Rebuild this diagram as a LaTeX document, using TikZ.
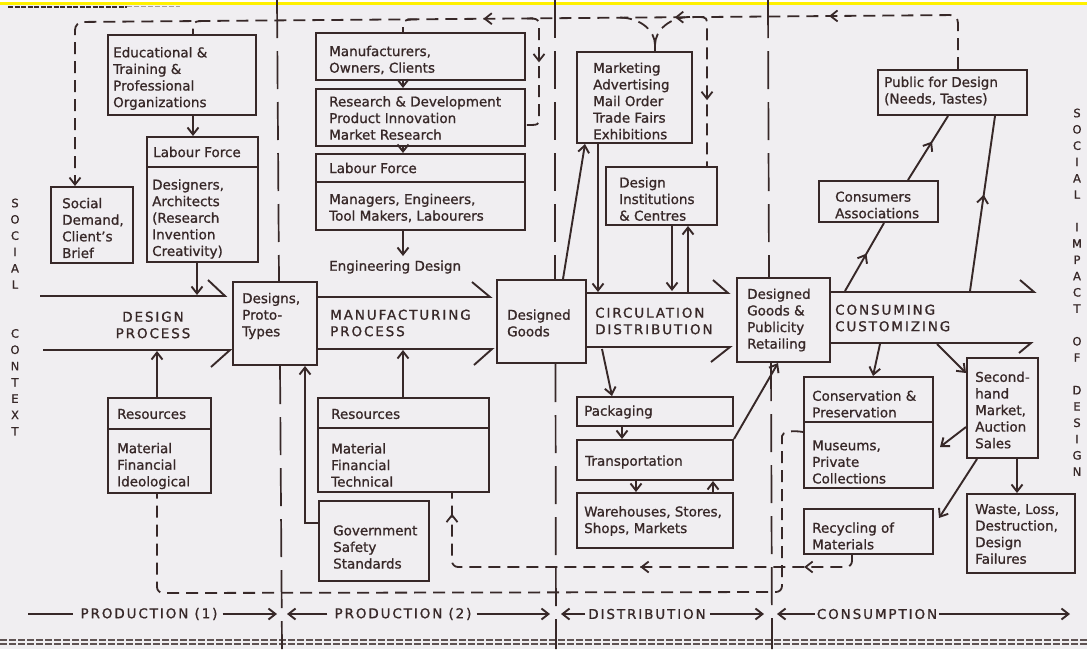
\documentclass[tikz,border=0pt]{standalone}
\usepackage{fontspec}
\setmainfont{DejaVu Sans}[FakeBold=1]
\newfontfamily\capsf{DejaVu Sans}[LetterSpace=14,FakeBold=1]
\newfontfamily\sidef{DejaVu Sans}[FakeBold=1]
\usetikzlibrary{arrows.meta,decorations.markings,calc}
\definecolor{ink}{RGB}{55,40,40}
\definecolor{paper}{RGB}{240,238,241}
\definecolor{band}{RGB}{255,240,0}
\tikzset{
  box/.style={draw=ink, line width=2pt, inner sep=0pt},
  txt/.style={text=ink, anchor=west, align=left, inner sep=0pt, font=\fontsize{13.5}{16.6}\selectfont},
  caplab/.style={text=ink, inner sep=0pt, align=left, font=\capsf\fontsize{13.5}{16.5}\selectfont},
  side/.style={text=ink, inner sep=0pt, align=center, font=\sidef\fontsize{11.5}{16.3}\selectfont},
  ln/.style={draw=ink, line width=1.9pt},
  arr/.style={draw=ink, line width=1.9pt, -{Straight Barb[length=7pt,width=11pt]}},
  dsh/.style={draw=ink, line width=1.8pt, dash pattern=on 12pt off 7pt},
  divl/.style={draw=ink, line width=1.7pt, dash pattern=on 38pt off 13pt},
  midtip/.style={postaction={decorate}, decoration={markings, mark=at position #1 with {\pgfsetdash{}{0pt}\arrow{Straight Barb[length=7pt,width=11pt]}}}},
}
\newcommand\mybox[8]{%
  \node[box, minimum width={(#4-#2)*1pt}, minimum height={(#5-#3)*1pt}] (#1) at ({(#2+#4)/2},{(#3+#5)/2}) {};
  \node[txt] (#1t) at (#6,#7) {#8};}
\begin{document}
\begin{tikzpicture}[x=1pt,y=-1pt]
\useasboundingbox (0,0) rectangle (1087,649);
\fill[white] (0,0) rectangle (1087,649);
\fill[paper] (0,5) rectangle (1087,649);
\fill[band] (0,2.3) rectangle (1087,4.6);
\draw[ink, line width=2.2pt, dash pattern=on 5pt off 1.5pt] (8,6.6) -- (127,6.6);
\draw[ink!45, line width=1.6pt, dash pattern=on 5pt off 2pt] (127,6.4) -- (180,6.4);
\draw[ink!80, line width=1.3pt, dash pattern=on 7pt off 2pt] (0,640) -- (1087,640);
\draw[ink!80, line width=1.3pt, dash pattern=on 7pt off 2pt] (0,644) -- (1087,644);

% ---------- boxes ----------
\mybox{edu}{108}{35}{256}{115}{113}{78.5}{Educational \&\\Training \&\\Professional\\Organizations}
\mybox{labdh}{147}{137}{258}{167}{153}{152}{Labour Force}
\mybox{labdb}{147}{167}{258}{262}{152}{219}{Designers,\\Architects\\(Research\\Invention\\Creativity)}
\mybox{soc}{51}{187}{133}{263}{62}{228}{Social\\Demand,\\Client’s\\Brief}
\mybox{des}{233}{282}{317}{365}{242}{316}{Designs,\\Proto-\\Types}
\mybox{man}{316}{33}{525}{80}{329}{60}{Manufacturers,\\Owners, Clients}
\mybox{rd}{316}{89}{525}{146}{329}{118}{Research \& Development\\Product Innovation\\Market Research}
\mybox{labmh}{316}{154}{525}{182}{329}{168}{Labour Force}
\mybox{labmb}{316}{182}{525}{230}{329}{208}{Managers, Engineers,\\Tool Makers, Labourers}
\node[txt] (eng) at (329,267) {Engineering Design};
\mybox{dg}{497}{280}{586}{363}{507}{323}{Designed\\Goods}
\mybox{mkt}{577}{52}{692}{143}{593}{101}{Marketing\\Advertising\\Mail Order\\Trade Fairs\\Exhibitions}
\mybox{dic}{606}{167}{717}{225}{619}{199}{Design\\Institutions\\\& Centres}
\mybox{dgp}{737}{278}{830}{362}{747}{320}{Designed\\Goods \&\\Publicity\\Retailing}
\mybox{pub}{878}{70}{1027}{115}{884}{91}{Public for Design\\(Needs, Tastes)}
\mybox{ca}{819}{181}{938}{222}{835}{205}{Consumers\\Associations}
\mybox{resdh}{108}{398}{211}{429}{117}{414}{Resources}
\mybox{resdb}{108}{429}{211}{493}{117}{466}{Material\\Financial\\Ideological}
\mybox{resmh}{318}{398}{489}{428}{331}{414}{Resources}
\mybox{resmb}{318}{428}{489}{492}{331}{465}{Material\\Financial\\Technical}
\mybox{gov}{319}{501}{429}{581}{333}{547}{Government\\Safety\\Standards}
\mybox{pack}{577}{397}{733}{426}{584}{412}{Packaging}
\mybox{trans}{577}{440}{733}{480}{585}{462}{Transportation}
\mybox{ware}{577}{493}{733}{548}{584}{521}{Warehouses, Stores,\\Shops, Markets}
\mybox{consh}{804}{377}{933}{422}{812}{404}{Conservation \&\\Preservation}
\mybox{consb}{804}{422}{933}{488}{812}{462}{Museums,\\Private\\Collections}
\mybox{rec}{804}{509}{933}{554}{812}{536}{Recycling of\\Materials}
\mybox{sh}{967}{358}{1038}{458}{975}{410}{Second-\\hand\\Market,\\Auction\\Sales}
\mybox{waste}{967}{494}{1075}{573}{975}{534}{Waste, Loss,\\Destruction,\\Design\\Failures}

% ---------- dividing lines ----------
\draw[divl] (277,0) -- (des.north -| 279,0);
\draw[divl] (des.south -| 280,0) -- (282,649);
\draw[divl] (555,0) -- (dg.north -| 555,0);
\draw[divl] (dg.south -| 555.5,0) -- (556,649);
\draw[divl] (768,0) -- (dgp.north -| 769,0);
\draw[divl] (dgp.south -| 771,0) -- (772,649);

% ---------- process labels ----------
\node[caplab, align=center] (dpl) at (153,325) {DESIGN\\PROCESS};
\node[caplab, anchor=west] (mpl) at (330,323) {MANUFACTURING\\PROCESS};
\node[caplab, anchor=west] (cpl) at (595,321) {CIRCULATION\\DISTRIBUTION};
\node[caplab, anchor=west] (cspl) at (835,318) {CONSUMING\\CUSTOMIZING};

% ---------- process arrows ----------
\coordinate (dpt0) at (40,296); \coordinate (dpb0) at (43,350);
\draw[ln] (dpt0) -- (225,296) -- (208,280);
\draw[ln] (dpb0) -- (230,350) -- (211,367);
\draw[ln] (des.east |- 0,297) -- (490,297) -- (472,282);
\draw[ln] (des.east |- 0,349) -- (492,349) -- (474,365);
\draw[ln] (dg.east |- 0,293) -- (728,293) -- (713,280);
\draw[ln] (dg.east |- 0,347) -- (730,347) -- (711,362);
\draw[ln] (dgp.east |- 0,292) -- (1034,292) -- (1020,280);
\draw[ln] (dgp.east |- 0,343) -- (1031,343) -- (1019,353);

% ---------- design side ----------
\draw[arr] ([xshift=11pt]edu.south) -- ([xshift=-9.5pt]labdh.north);
\draw[arr] ([xshift=-5.5pt]labdb.south) -- (197,295);
\draw[arr] ([xshift=-2.5pt]resdh.north) -- (157,351);
\draw[arr] ([yshift=18pt]gov.west) -| ([xshift=30pt]des.south);

% ---------- manufacturing side ----------
\draw[arr] ([xshift=-17.5pt]man.south) -- ([xshift=-17.5pt]rd.north);
\draw[arr] ([xshift=-17.5pt]rd.south) -- ([xshift=-17.5pt]labmh.north);
\coordinate (engtop) at (403,256);
\draw[arr] ([xshift=-17.5pt]labmb.south) -- (engtop);
\draw[arr] ([xshift=-0.5pt]resmh.north) -- ([xshift=-0.5pt]resmh.north |- 0,350);

% ---------- distribution ----------
\draw[arr] ([xshift=21.5pt]dg.north) -- ([xshift=-49.5pt]mkt.south);
\draw[arr] ([xshift=-36.5pt]mkt.south) -- (598,292);
\draw[arr] ([xshift=10.5pt]dic.south) -- (672,291);
\draw[arr] (688,292) -- ([xshift=26.5pt]dic.south);
\draw[arr] (602,349) -- ([xshift=-43pt]pack.north);
\draw[arr] ([xshift=-33pt]pack.south) -- ([xshift=-33pt]trans.north);
\draw[arr] ([xshift=-19pt]trans.south) -- ([xshift=-19pt]ware.north);
\draw[arr] ([xshift=58pt]ware.north) -- ([xshift=58pt]trans.south);
\draw[arr] (trans.north east) -- ([xshift=-5.5pt]dgp.south);

% ---------- consumption ----------
\draw[ln, midtip=0.55] (845,291) -- ([xshift=5.5pt]ca.south);
\draw[ln, midtip=0.6] ([xshift=29.5pt]ca.north) -- ([xshift=-4.5pt]pub.south);
\draw[ln, midtip=0.55] (970,291) -- ([xshift=42.5pt]pub.south);
\draw[arr] (880,344) -- ([xshift=4.5pt]consh.north);
\draw[arr] (937,344) -- ([yshift=35pt]sh.west);
\draw[arr] ([yshift=-19pt]sh.west) -- ([xshift=6pt,yshift=8pt]consb.east);
\draw[arr] ([xshift=-25.5pt]sh.south) -- ([xshift=5pt,yshift=13.5pt]rec.east);
\draw[arr] ([xshift=14.5pt]sh.south) -- ([xshift=-4pt]waste.north);

% ---------- feedback loops (dashed) ----------
\draw[dsh, rounded corners=8pt, -{Straight Barb[length=7pt,width=11pt]},
  postaction={decorate}, decoration={markings,
    mark=at position 0.164 with {\pgfsetdash{}{0pt}\arrow{Straight Barb[length=7pt,width=11pt]}},
    mark=at position 0.305 with {\pgfsetdash{}{0pt}\arrow{Straight Barb[length=7pt,width=11pt]}},
    mark=at position 0.48 with {\pgfsetdash{}{0pt}\arrow{Straight Barb[length=7pt,width=11pt]}}}]
  ([xshift=5.5pt]pub.north) -- (958,15) -- (75,22) -- ([xshift=-17pt]soc.north);
\draw[dsh] (207,21) .. controls (193,21) .. ([xshift=11pt]edu.north);
\draw[dsh] (417,19.5) .. controls (403,19.5) .. ([xshift=-17.5pt]man.north);
\draw[dsh, midtip=0.42] (527,18.5) .. controls (539,18.5) .. (539,32) -- (539,117) .. controls (539,125) .. ([yshift=-7.5pt]rd.east);
\draw[dsh] (620,17.5) .. controls (640,18) and (655,30) .. (655,45);
\draw[dsh] (690,17) .. controls (670,17) and (655,30) .. (655,45);
\draw[ln] (655,44) -- ([xshift=20.5pt]mkt.north);
\draw[dsh, midtip=0.58] (697,17) .. controls (707,17) .. (707,29) -- ([xshift=45.5pt]dic.north);
\draw[dsh, rounded corners=6pt] ([yshift=23pt]consb.west) .. controls (792,430) and (782,432) .. (782,442) -- (782,592) -- (157,593) -- ([xshift=-2.5pt]resdb.south);
\draw[dsh, rounded corners=6pt,
  postaction={decorate}, decoration={markings,
    mark=at position 0.119 with {\pgfsetdash{}{0pt}\arrow{Straight Barb[length=7pt,width=11pt]}},
    mark=at position 0.46 with {\pgfsetdash{}{0pt}\arrow{Straight Barb[length=7pt,width=11pt]}},
    mark=at position 0.957 with {\pgfsetdash{}{0pt}\arrow{Straight Barb[length=7pt,width=11pt]}}}]
  ([xshift=-16.5pt]rec.south) -- (852,567) -- (452,567) -- ([xshift=48.5pt]resmb.south);

% ---------- phase labels ----------
\node[caplab] (p1) at (149,614) {PRODUCTION (1)};
\node[caplab] (p2) at (403,614) {PRODUCTION (2)};
\node[caplab] (dist) at (647,614) {DISTRIBUTION};
\node[caplab] (cons) at (877,614) {CONSUMPTION};
\coordinate (p1l) at (28,614);
\draw[ln] (p1l) -- ([xshift=-7pt]p1.west);
\draw[arr] ([xshift=5pt]p1.east) -- (277,614);
\draw[arr] ([xshift=-7pt]p2.west) -- (287,614);
\draw[arr] ([xshift=5pt]p2.east) -- (550,614);
\draw[arr] ([xshift=-3pt]dist.west) -- (561,614);
\draw[arr] ([xshift=4pt]dist.east) -- (764,614);
\draw[arr] ([xshift=-2pt]cons.west) -- (777,614);
\draw[arr] ([xshift=2pt]cons.east) -- (1070,614);

% ---------- side texts ----------
\node[side, anchor=north] (sideL) at (15,198.5) {S\\O\\C\\I\\A\\L\\[32.6pt]C\\O\\N\\T\\E\\X\\T};
\node[side, anchor=north] (sideR) at (1077,108.5) {S\\O\\C\\I\\A\\L\\[16.3pt]I\\M\\P\\A\\C\\T\\[16.3pt]O\\F\\[16.3pt]D\\E\\S\\I\\G\\N};
\end{tikzpicture}
\end{document}
